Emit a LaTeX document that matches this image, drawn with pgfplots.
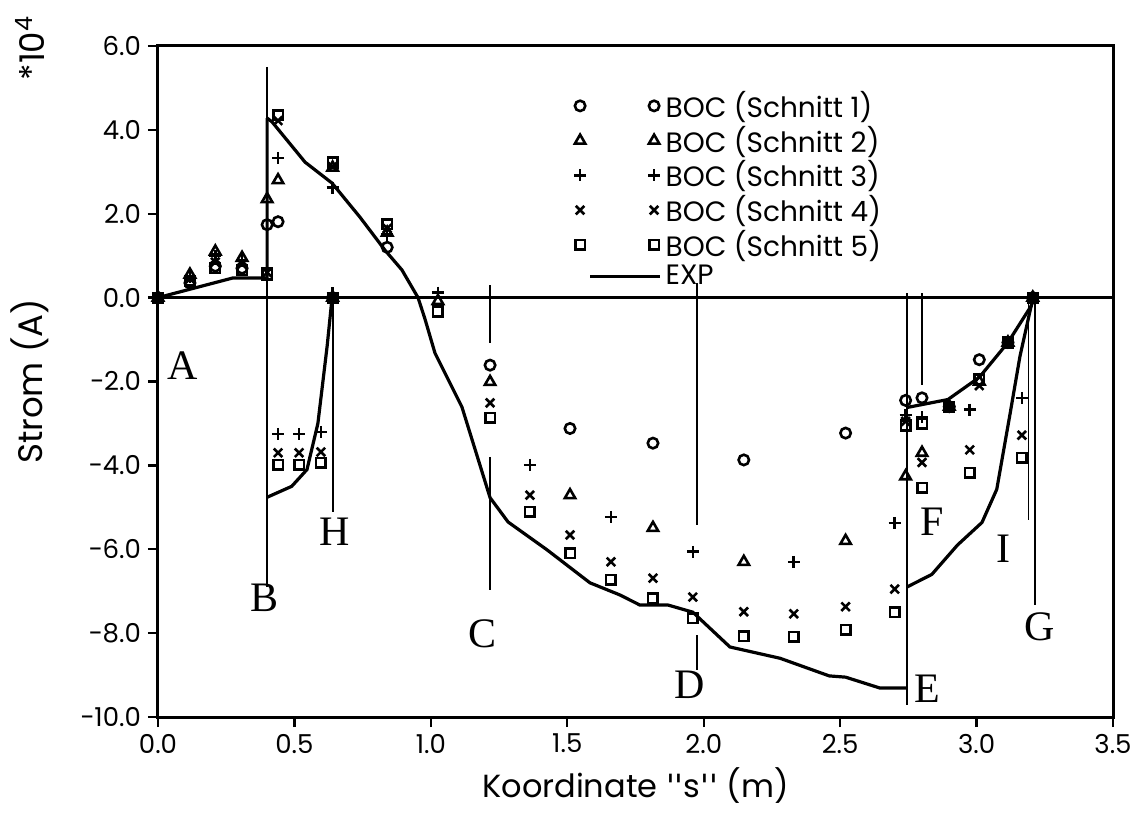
\documentclass[border=0pt]{standalone}
\usepackage{fontspec}
\setmainfont{Poppins}
\newfontfamily\letterfont{Liberation Serif}
\newfontfamily\quotefont{DejaVu Sans}
\usepackage{pgfplots}
\pgfplotsset{compat=1.18}

\begin{document}
\begin{tikzpicture}
\begin{axis}[
    scale only axis,
    width=477.5pt, height=335.5pt,
    xmin=0, xmax=3.5, ymin=-10, ymax=6,
    axis line style={line width=1.5pt},
    xtick={0,0.5,1,1.5,2,2.5,3,3.5},
    xticklabels={0.0,0.5,1.0,1.5,2.0,2.5,3.0,3.5},
    ytick={-10,-8,-6,-4,-2,0,2,4,6},
    yticklabels={−10.0,−8.0,−6.0,−4.0,−2.0,0.0,2.0,4.0,6.0},
    tick align=outside, tick pos=left,
    major tick length=5pt,
    tick style={line width=1.2pt, black},
    ticklabel style={font=\fontsize{13}{15}\selectfont},
    xlabel={Koordinate {\quotefont\symbol{"27}\symbol{"27}}s{\quotefont\symbol{"27}\symbol{"27}} (m)},
    xlabel style={font=\fontsize{16}{19}\selectfont},
    ylabel={Strom (A)},
    ylabel style={font=\fontsize{17}{20}\selectfont,
        at={(axis description cs:-0.134,0.5)}, anchor=center},
    clip=false,
    legend style={draw=none, fill=none, at={(axis description cs:0.429,0.945)},
        anchor=north west, font=\fontsize{14}{17}\selectfont, row sep=-1.2pt},
    legend cell align=left,
    legend image code/.code={\draw plot coordinates {(0pt,0pt) (37pt,0pt)};},
]
% BOC Schnitt 1
\addplot[only marks, mark=o, mark size=2.6pt, line width=1.3pt] coordinates {
 (0,0) (0.117,0.35) (0.21,0.75) (0.308,0.7) (0.40,1.74) (0.44,1.81) (0.64,0)
 (0.84,1.2) (1.217,-1.61) (1.51,-3.12) (1.814,-3.47) (2.147,-3.87) (2.52,-3.23)
 (2.74,-2.45) (2.80,-2.39) (2.90,-2.6) (3.01,-1.48) (3.115,-1.07) (3.206,0)
};
\addlegendentry{BOC (Schnitt 1)}
% BOC Schnitt 2
\addplot[only marks, mark=triangle, mark size=3pt, line width=1.3pt] coordinates {
 (0,0) (0.117,0.55) (0.21,1.1) (0.308,0.95) (0.40,2.35) (0.44,2.8) (0.64,0)
 (0.64,3.1) (0.84,1.55) (1.026,-0.08) (1.217,-2.01) (1.51,-4.71) (1.814,-5.49)
 (2.147,-6.30) (2.52,-5.80) (2.74,-4.26) (2.80,-3.7) (2.90,-2.6) (3.01,-2.0)
 (3.115,-1.07) (3.206,0)
};
\addlegendentry{BOC (Schnitt 2)}
% BOC Schnitt 3
\addplot[only marks, mark=+, mark size=3pt, line width=1.3pt] coordinates {
 (0,0) (0.117,0.5) (0.21,1.0) (0.308,0.9) (0.40,0.7) (0.44,3.33) (0.44,-3.25)
 (0.517,-3.25) (0.597,-3.2) (0.64,0.1) (0.64,2.62) (0.84,1.5) (1.026,0.12)
 (1.363,-3.99) (1.66,-5.23) (1.96,-6.06) (2.33,-6.30) (2.70,-5.37) (2.74,-2.8)
 (2.80,-2.85) (2.90,-2.6) (2.975,-2.67) (3.115,-1.07) (3.166,-2.39) (3.206,0)
};
\addlegendentry{BOC (Schnitt 3)}
% BOC Schnitt 4
\addplot[only marks, mark=x, mark size=3pt, line width=1.3pt] coordinates {
 (0,0) (0.117,0.45) (0.21,0.85) (0.308,0.8) (0.40,0.6) (0.44,4.22) (0.44,-3.70)
 (0.517,-3.70) (0.597,-3.68) (0.64,0) (0.64,3.12) (0.84,1.65) (1.217,-2.51)
 (1.363,-4.71) (1.51,-5.66) (1.66,-6.30) (1.814,-6.69) (1.96,-7.14) (2.147,-7.49)
 (2.33,-7.54) (2.52,-7.37) (2.70,-6.95) (2.74,-2.95) (2.80,-3.93) (2.90,-2.6)
 (2.975,-3.63) (3.01,-2.1) (3.115,-1.07) (3.166,-3.28) (3.206,0)
};
\addlegendentry{BOC (Schnitt 4)}
% BOC Schnitt 5
\addplot[only marks, mark=square, mark size=2.4pt, line width=1.3pt] coordinates {
 (0,0) (0.117,0.4) (0.21,0.7) (0.308,0.65) (0.40,0.55) (0.44,4.35) (0.44,-3.99)
 (0.517,-3.99) (0.597,-3.94) (0.64,0) (0.64,3.22) (0.84,1.75) (1.026,-0.33)
 (1.217,-2.87) (1.363,-5.11) (1.51,-6.09) (1.66,-6.73) (1.814,-7.17) (1.96,-7.64)
 (2.147,-8.07) (2.33,-8.09) (2.52,-7.92) (2.70,-7.50) (2.74,-3.05) (2.80,-4.53)
 (2.80,-3.0) (2.90,-2.6) (2.975,-4.18) (3.01,-1.95) (3.115,-1.07) (3.166,-3.82)
 (3.206,0)
};
\addlegendentry{BOC (Schnitt 5)}
% EXP main branch
\addplot[black, line width=1.6pt,
    legend image code/.code={\draw (5pt,0pt) -- (40pt,0pt);}] coordinates {
 (0.40,4.28) (0.418,4.19) (0.539,3.23) (0.638,2.73) (0.74,1.92) (0.832,1.13)
 (0.894,0.66) (0.953,0) (0.978,-0.5) (1.015,-1.32) (1.114,-2.61) (1.217,-4.77)
 (1.283,-5.35) (1.425,-6.01) (1.583,-6.80) (1.693,-7.09) (1.766,-7.33)
 (1.869,-7.33) (1.96,-7.5) (2.096,-8.33) (2.28,-8.6) (2.46,-9.02) (2.52,-9.05)
 (2.646,-9.31) (2.745,-9.31)
};
\addlegendentry{EXP}
% EXP other branches
\addplot[black, line width=1.6pt, forget plot] coordinates {
 (0,0) (0.275,0.47) (0.40,0.47) (0.40,4.28)
};
\addplot[black, line width=1.6pt, forget plot] coordinates {
 (0.40,-4.76) (0.49,-4.5) (0.546,-4.1) (0.586,-3.0) (0.62,-1.15) (0.638,0)
};
\addplot[black, line width=1.6pt, forget plot] coordinates {
 (2.745,-2.62) (2.895,-2.43) (3.01,-1.9) (3.115,-1.07) (3.2,-0.2) (3.21,0)
};
\addplot[black, line width=1.6pt, forget plot] coordinates {
 (2.745,-6.9) (2.836,-6.6) (2.93,-5.9) (3.02,-5.36) (3.074,-4.57) (3.122,-2.8)
 (3.159,-1.4) (3.2,-0.2) (3.21,0)
};
% zero line
\addplot[black, line width=1.4pt, forget plot] coordinates {(0,0) (3.5,0)};
% section lines
\addplot[black, line width=0.9pt, forget plot] coordinates {(0.40,5.5) (0.40,-6.9)};
\addplot[black, line width=0.9pt, forget plot] coordinates {(0.64,0.25) (0.64,-5.1)};
\addplot[black, line width=0.9pt, forget plot] coordinates {(1.217,0.3) (1.217,-1.08)};
\addplot[black, line width=0.9pt, forget plot] coordinates {(1.217,-3.8) (1.217,-6.97)};
\addplot[black, line width=0.9pt, forget plot] coordinates {(1.975,0.35) (1.975,-5.42)};
\addplot[black, line width=0.9pt, forget plot] coordinates {(1.975,-8.05) (1.975,-8.88)};
\addplot[black, line width=0.9pt, forget plot] coordinates {(2.745,0.1) (2.745,-9.71)};
\addplot[black, line width=0.9pt, forget plot] coordinates {(2.80,0.1) (2.80,-2.09)};
\addplot[black, line width=0.9pt, forget plot] coordinates {(3.19,0) (3.19,-5.3)};
\addplot[black, line width=0.9pt, forget plot] coordinates {(3.214,0) (3.214,-7.33)};
% letters
\begin{scope}[every node/.style={font=\letterfont\fontsize{21}{21}\selectfont}]
\node at (axis cs:0.092,-1.61) {A};
\node at (axis cs:0.392,-7.16) {B};
\node at (axis cs:1.19,-8.02) {C};
\node at (axis cs:1.95,-9.24) {D};
\node at (axis cs:2.82,-9.33) {E};
\node at (axis cs:2.836,-5.35) {F};
\node at (axis cs:3.23,-7.85) {G};
\node at (axis cs:0.648,-5.59) {H};
\node at (axis cs:3.10,-5.98) {I};
\end{scope}
\node[rotate=90, font=\fontsize{17}{17}\selectfont] at (axis cs:-0.47,5.95) {*10\textsuperscript{4}};
\end{axis}
\path (current axis.south west) ++(-79pt,-48.5pt) rectangle ++(572pt,407pt);
\end{tikzpicture}
\end{document}
